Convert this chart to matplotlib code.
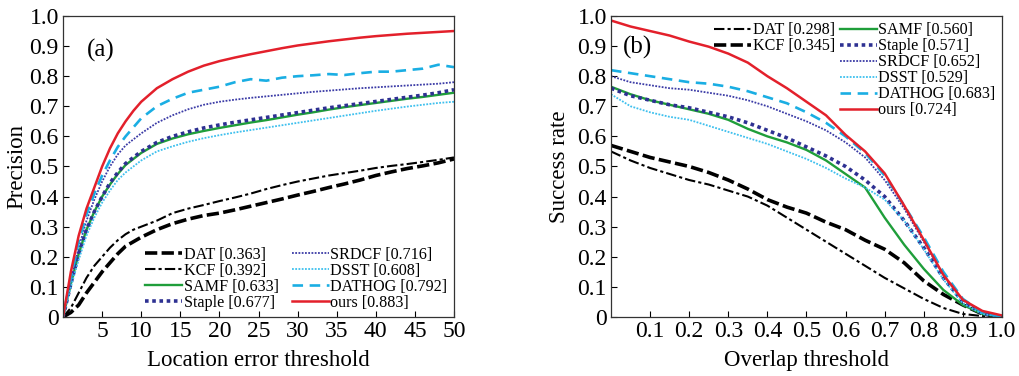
import numpy as np
import matplotlib
matplotlib.use("Agg")
import matplotlib.pyplot as plt

plt.rcParams['font.family'] = ['Liberation Serif', 'DejaVu Serif']

# Данные (a) precision
x_loc = [0, 1, 2, 3, 4, 5, 6, 7, 8, 9, 10, 12, 14, 16, 18, 20, 22, 24, 26, 28,
         30, 32, 34, 36, 38, 40, 42, 44, 46, 48, 50]
prec_dat = [0, .015, .04, .08, .115, .15, .18, .21, .235, .25, .265, .29, .31, .325, .337, .345,
            .356, .368, .38, .392, .405, .417, .43, .442, .455, .47, .482, .493, .502, .512, .525]
prec_kcf = [0, .03, .08, .13, .17, .20, .23, .255, .275, .29, .30, .32, .345, .36, .372, .385,
            .397, .41, .425, .438, .45, .46, .47, .478, .486, .495, .502, .508, .515, .522, .53]
prec_samf = [0, .11, .21, .29, .35, .40, .44, .475, .505, .525, .545, .575, .593, .607, .618, .628,
             .637, .646, .654, .663, .672, .68, .689, .697, .704, .711, .718, .725, .731, .738, .745]
prec_staple = [0, .11, .21, .29, .35, .40, .445, .48, .51, .53, .55, .58, .60, .615, .628, .638,
               .647, .655, .663, .671, .679, .687, .695, .702, .709, .716, .723, .730, .737, .745, .755]
prec_srdcf = [0, .12, .23, .32, .39, .45, .50, .54, .57, .59, .61, .645, .67, .69, .705, .715,
              .722, .728, .733, .738, .743, .748, .752, .756, .760, .763, .766, .769, .772, .775, .78]
prec_dsst = [0, .10, .19, .27, .33, .38, .42, .455, .48, .50, .52, .55, .567, .582, .594, .604,
             .613, .621, .629, .637, .645, .653, .661, .669, .677, .685, .692, .699, .705, .711, .715]
prec_dathog = [0, .13, .25, .34, .41, .47, .52, .565, .60, .63, .66, .70, .725, .745, .755, .765,
               .78, .79, .785, .795, .80, .803, .807, .804, .81, .815, .815, .82, .825, .838, .83]
prec_ours = [0, .15, .27, .36, .43, .50, .56, .61, .65, .685, .715, .76, .79, .815, .835, .85,
             .862, .873, .883, .893, .902, .909, .916, .922, .928, .933, .937, .941, .944, .947, .95]

# Данные (b) success
x_ov = [0, .05, .1, .15, .2, .25, .3, .35, .4, .45, .5, .55, .6, .65, .7, .75, .8, .85, .9, .95, 1.0]
succ_dat = [.55, .52, .495, .475, .455, .44, .42, .40, .37, .33, .29, .25, .21, .17, .13, .095, .06, .03, .01, .003, 0]
succ_kcf = [.57, .55, .53, .515, .50, .48, .455, .425, .39, .365, .345, .315, .29, .255, .225, .18, .12, .075, .04, .01, 0]
succ_samf = [.765, .74, .72, .705, .69, .675, .655, .625, .60, .58, .555, .52, .475, .43, .33, .24, .16, .09, .04, .01, 0]
succ_staple = [.76, .735, .72, .705, .695, .68, .665, .645, .62, .595, .565, .535, .50, .455, .40, .32, .23, .13, .05, .012, 0]
succ_srdcf = [.80, .78, .77, .76, .755, .745, .735, .72, .70, .675, .65, .62, .58, .53, .455, .36, .25, .14, .055, .015, 0]
succ_dsst = [.74, .70, .68, .665, .655, .635, .615, .595, .575, .55, .525, .495, .46, .43, .39, .32, .225, .125, .045, .01, 0]
succ_dathog = [.82, .81, .80, .79, .78, .775, .765, .75, .73, .71, .68, .645, .60, .545, .47, .37, .265, .15, .06, .015, 0]
succ_ours = [.985, .965, .95, .935, .915, .898, .875, .845, .80, .76, .715, .67, .605, .55, .477, .37, .256, .14, .057, .02, .005]

legend_a = ["DAT [0.363]", "KCF [0.392]", "SAMF [0.633]", "Staple [0.677]",
            "SRDCF [0.716]", "DSST [0.608]", "DATHOG [0.792]", "ours [0.883]"]
legend_b = ["DAT [0.298]", "KCF [0.345]", "SAMF [0.560]", "Staple [0.571]",
            "SRDCF [0.652]", "DSST [0.529]", "DATHOG [0.683]", "ours [0.724]"]

# стили
thick_dash = dict(color='black', lw=2.6, linestyle=(0, (3.4, 1.2)))
dash_dot = dict(color='black', lw=1.5, linestyle=(0, (5, 1.5, 1.5, 1.5)))
st_samf = dict(color='#1f9e3a', lw=1.7, linestyle='-')
st_staple = dict(color='#2e3192', lw=2.6, linestyle=(0, (1, 1)))
st_srdcf = dict(color='#3b3ba6', lw=1.3, linestyle=(0, (1, 0.8)))
st_dsst = dict(color='#3ec0ee', lw=1.3, linestyle=(0, (1, 0.8)))
st_dathog = dict(color='#1aaee3', lw=1.9, linestyle=(0, (4, 2.5)))
st_ours = dict(color='#e3202b', lw=1.8, linestyle='-')

fig = plt.figure(figsize=(10.2, 3.76), dpi=100)
ax1 = fig.add_axes([0.0618, 0.157, 0.3833, 0.8005])
ax2 = fig.add_axes([0.599, 0.157, 0.3833, 0.8005])

kw = dict(frameon=False, fontsize=11.6, handlelength=2.3, handletextpad=0.1,
          labelspacing=0.0, borderaxespad=0.2, borderpad=0.2)

# (a)
la = []
la += ax1.plot(x_loc, prec_dat, **thick_dash)
la += ax1.plot(x_loc, prec_kcf, **dash_dot)
la += ax1.plot(x_loc, prec_samf, **st_samf)
la += ax1.plot(x_loc, prec_staple, **st_staple)
la += ax1.plot(x_loc, prec_srdcf, **st_srdcf)
la += ax1.plot(x_loc, prec_dsst, **st_dsst)
la += ax1.plot(x_loc, prec_dathog, **st_dathog)
la += ax1.plot(x_loc, prec_ours, **st_ours)
ax1.set_xlim(0, 50)
ax1.set_xticks(np.arange(5, 51, 5))
ax1.set_xlabel("Location error threshold", fontsize=16.5)
ax1.set_ylabel("Precision", fontsize=16.5)
ax1.xaxis.set_label_coords(0.5, -0.11)
ax1.yaxis.set_label_coords(-0.092, 0.5)
ax1.text(0.06, 0.887, "(a)", transform=ax1.transAxes, fontsize=18, va='center')
ax1.legend(la, legend_a, ncol=2, loc='lower right', columnspacing=0.8, **kw)

# (b)
lb = []
lb += ax2.plot(x_ov, succ_dat, **dash_dot)
lb += ax2.plot(x_ov, succ_kcf, **thick_dash)
lb += ax2.plot(x_ov, succ_samf, **st_samf)
lb += ax2.plot(x_ov, succ_staple, **st_staple)
lb += ax2.plot(x_ov, succ_srdcf, **st_srdcf)
lb += ax2.plot(x_ov, succ_dsst, **st_dsst)
lb += ax2.plot(x_ov, succ_dathog, **st_dathog)
lb += ax2.plot(x_ov, succ_ours, **st_ours)
ax2.set_xlim(0, 1)
ax2.set_xticks(np.arange(0.1, 1.01, 0.1))
ax2.set_xticklabels([f"{v:.1f}" for v in np.arange(0.1, 1.01, 0.1)])
ax2.set_xlabel("Overlap threshold", fontsize=16.5)
ax2.set_ylabel("Success rate", fontsize=16.5)
ax2.xaxis.set_label_coords(0.5, -0.11)
ax2.yaxis.set_label_coords(-0.105, 0.5)
ax2.text(0.03, 0.894, "(b)", transform=ax2.transAxes, fontsize=18, va='center')
leg1 = ax2.legend(lb[:2], legend_b[:2], loc='upper right', bbox_to_anchor=(0.59, 1.0), **kw)
ax2.add_artist(leg1)
ax2.legend(lb[2:], legend_b[2:], loc='upper right', bbox_to_anchor=(1.0, 1.0), **kw)

for ax in (ax1, ax2):
    ax.set_ylim(0, 1)
    ax.set_yticks(np.arange(0, 1.01, 0.1))
    ax.set_yticklabels(["0"] + [f"{v:.1f}" for v in np.arange(0.1, 1.01, 0.1)])
    ax.tick_params(direction='in', length=4, labelsize=17, top=False, right=False, pad=3)
    for s in ax.spines.values():
        s.set_linewidth(0.9)
        s.set_color('#333333')

fig.savefig("out.png", dpi=100)
